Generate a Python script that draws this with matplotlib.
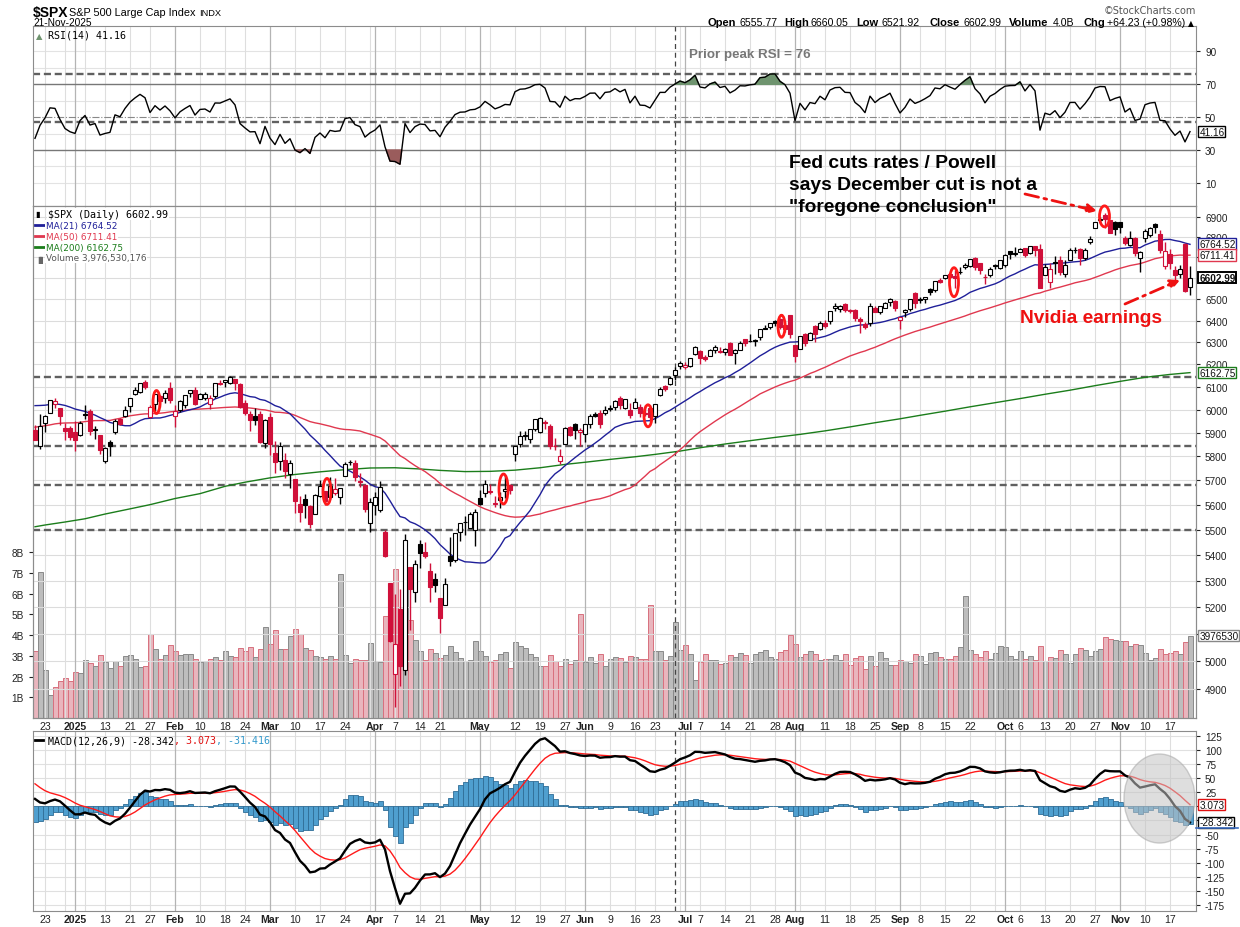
import numpy as np
import pandas as pd
import matplotlib
matplotlib.use("Agg")
import matplotlib.pyplot as plt
from matplotlib import transforms
from matplotlib.lines import Line2D
from matplotlib.patches import Ellipse, FancyArrowPatch
from matplotlib.ticker import NullLocator

plt.rcParams['font.family'] = ['Liberation Sans', 'DejaVu Sans']

W, H = 1240, 928

# closes before the window (Sep 3 - Dec 18 2024), only to warm up the indicators
prior_closes = [
    5529, 5520, 5503, 5408, 5471, 5496, 5554, 5596, 5626, 5633, 5634, 5618, 5713, 5703, 5719, 5732, 5722, 5745, 5738, 5762,
    5709, 5710, 5700, 5751, 5696, 5751, 5792, 5780, 5815, 5859, 5815, 5843, 5841, 5864, 5853, 5851, 5797, 5809, 5808, 5823, 5832, 5813, 5705,
    5729, 5712, 5783, 5929, 5973, 5996, 6001, 5984, 5985, 5949, 5871, 5894, 5917, 5917, 5949, 5969, 5987, 6021, 5999, 6032,
    6047, 6050, 6087, 6075, 6090, 6053, 6034, 6085, 6051, 6051, 6074, 6051, 5872,
]

holidays = ['2024-12-25', '2025-01-01', '2025-01-09', '2025-01-20', '2025-02-17',
            '2025-04-18', '2025-05-26', '2025-06-19', '2025-07-04', '2025-09-01']

opens = [
    5913, 5842, 5940, 5985, 6025, 6006, 5921, 5920,
    5903, 5892, 5982, 5994, 5911, 5890, 5782, 5860, 5905, 5957, 5970, 6014, 6069, 6076, 6121, 5969, 6026, 6058, 6050, 6096,
    5970, 5998, 6021, 6073, 6084, 6047, 6049, 6025, 6060, 6115, 6121, 6117, 6134, 6114, 6027, 5982, 5970, 5981, 5857,
    5968, 5812, 5782, 5786, 5726, 5705, 5603, 5624, 5595, 5563, 5635, 5654, 5633, 5646, 5630, 5718, 5776, 5771, 5696, 5679, 5528,
    5597, 5580, 5492, 5292, 4953, 5193, 4966, 5353, 5255, 5442, 5411, 5335, 5305, 5232, 5207, 5395, 5381, 5490, 5529, 5508, 5499,
    5626, 5646, 5656, 5604, 5617, 5655, 5679, 5808, 5854, 5888, 5874, 5914, 5903, 5945, 5928, 5842, 5782, 5854, 5925, 5939, 5904,
    5896, 5939, 5979, 5985, 5987, 6004, 6010, 6049, 6009, 6000, 6005, 6012, 5986, 6005, 5970, 6062, 6104, 6112, 6151, 6194,
    6188, 6191, 6246, 6259, 6235, 6240, 6266, 6256, 6255, 6296, 6250, 6263, 6313, 6304, 6307, 6326, 6368, 6370, 6397, 6406, 6379, 6428,
    6288, 6271, 6337, 6311, 6377, 6360, 6389, 6398, 6460, 6453, 6478, 6445, 6449, 6408, 6384, 6388, 6458, 6440, 6461, 6488, 6490,
    6402, 6442, 6456, 6529, 6500, 6499, 6547, 6543, 6590, 6601, 6620, 6611, 6632, 6652, 6659, 6697, 6671, 6605, 6614, 6662, 6650,
    6665, 6731, 6722, 6729, 6744, 6720, 6757, 6739, 6616, 6584, 6677, 6686, 6619, 6690, 6736, 6741, 6696, 6775, 6845, 6885, 6910, 6883, 6877,
    6874, 6795, 6760, 6797, 6696, 6794, 6810, 6865, 6817, 6657, 6718, 6641, 6620, 6768, 6556,
]
highs = [
    5935, 5982, 5978, 6041, 6049, 6007, 5941, 5929,
    5949, 5949, 6022, 6001, 5928, 5890, 5841, 5871, 5960, 5964, 6014, 6051, 6101, 6119, 6128, 6018, 6070, 6063, 6087, 6120,
    6022, 6042, 6062, 6084, 6101, 6073, 6076, 6064, 6116, 6128, 6130, 6147, 6135, 6115, 6044, 5993, 6009, 5994, 5959,
    5987, 5866, 5860, 5812, 5783, 5706, 5636, 5642, 5597, 5645, 5703, 5654, 5715, 5711, 5670, 5775, 5786, 5783, 5732, 5685, 5627,
    5651, 5695, 5500, 5292, 5247, 5268, 5482, 5353, 5381, 5460, 5450, 5368, 5329, 5233, 5310, 5469, 5485, 5528, 5554, 5572, 5581,
    5658, 5700, 5683, 5634, 5653, 5720, 5684, 5845, 5906, 5906, 5917, 5959, 5969, 5954, 5938, 5879, 5829, 5924, 5930, 5943, 5922,
    5937, 5982, 5991, 6000, 6017, 6021, 6044, 6059, 6045, 6027, 6050, 6024, 6018, 6019, 6025, 6101, 6108, 6146, 6187, 6215,
    6210, 6227, 6284, 6263, 6242, 6269, 6290, 6279, 6272, 6303, 6269, 6304, 6316, 6336, 6317, 6360, 6381, 6390, 6402, 6410, 6402, 6428,
    6288, 6331, 6344, 6347, 6379, 6396, 6405, 6446, 6481, 6474, 6481, 6455, 6456, 6416, 6393, 6482, 6466, 6466, 6485, 6508, 6495,
    6416, 6453, 6503, 6533, 6509, 6513, 6555, 6588, 6601, 6616, 6627, 6639, 6656, 6671, 6695, 6700, 6673, 6620, 6652, 6670, 6690,
    6718, 6734, 6750, 6745, 6746, 6754, 6757, 6764, 6668, 6673, 6706, 6705, 6689, 6745, 6752, 6747, 6748, 6807, 6877, 6900, 6920, 6885, 6881,
    6875, 6804, 6829, 6800, 6731, 6839, 6851, 6869, 6833, 6775, 6740, 6657, 6663, 6771, 6660,
]
lows = [
    5867, 5832, 5903, 5983, 6007, 5932, 5869, 5868,
    5824, 5888, 5961, 5891, 5875, 5809, 5773, 5803, 5895, 5935, 5966, 5990, 6064, 6074, 6089, 5962, 5995, 6012, 6028, 6030,
    5923, 5990, 6007, 6053, 6019, 6045, 6043, 6004, 6052, 6107, 6100, 6111, 6084, 6008, 5977, 5909, 5932, 5858, 5837,
    5806, 5732, 5742, 5711, 5667, 5565, 5529, 5546, 5505, 5563, 5631, 5598, 5622, 5640, 5603, 5718, 5764, 5695, 5671, 5572, 5489,
    5558, 5572, 5390, 5069, 4835, 4910, 4950, 5115, 5220, 5349, 5387, 5220, 5255, 5101, 5207, 5356, 5371, 5456, 5478, 5505, 5433,
    5597, 5630, 5642, 5590, 5585, 5628, 5642, 5781, 5839, 5870, 5855, 5906, 5897, 5918, 5830, 5825, 5768, 5854, 5884, 5875, 5843,
    5862, 5919, 5967, 5921, 5978, 5994, 5998, 6003, 6003, 5963, 6005, 5966, 5971, 5952, 5943, 6060, 6080, 6107, 6132, 6180,
    6178, 6188, 6241, 6201, 6217, 6236, 6251, 6251, 6242, 6244, 6201, 6263, 6282, 6303, 6281, 6311, 6360, 6363, 6375, 6362, 6346, 6321,
    6212, 6271, 6282, 6309, 6301, 6356, 6365, 6385, 6445, 6441, 6441, 6436, 6400, 6343, 6360, 6375, 6439, 6433, 6459, 6469, 6444,
    6361, 6419, 6446, 6460, 6482, 6484, 6520, 6536, 6579, 6598, 6600, 6551, 6618, 6646, 6656, 6639, 6619, 6570, 6608, 6642, 6642,
    6656, 6693, 6706, 6725, 6700, 6716, 6708, 6551, 6616, 6551, 6620, 6613, 6605, 6689, 6721, 6665, 6686, 6766, 6843, 6873, 6846, 6820, 6810,
    6822, 6760, 6756, 6707, 6631, 6775, 6802, 6818, 6720, 6646, 6646, 6580, 6603, 6534, 6522,
]
closes = [
    5867, 5931, 5974, 6040, 6037, 5971, 5907, 5882,
    5869, 5942, 5975, 5909, 5918, 5827, 5836, 5842, 5950, 5937, 5997, 6049, 6086, 6119, 6101, 6012, 6067, 6039, 6071, 6041,
    5994, 6037, 6062, 6084, 6026, 6066, 6069, 6052, 6115.1, 6114.6, 6129, 6144, 6117, 6013, 5983, 5955, 5956, 5861, 5955,
    5850, 5778, 5843, 5739, 5770, 5615, 5572, 5599, 5522, 5639, 5675, 5615, 5675, 5663, 5668, 5768, 5777, 5712, 5693, 5581, 5612,
    5633, 5671, 5397, 5074, 5062, 4982, 5457, 5268, 5363, 5406, 5397, 5276, 5283, 5158, 5288, 5376, 5485, 5525, 5529, 5561, 5569,
    5604, 5686, 5650, 5607, 5631, 5664, 5660, 5844, 5886, 5892, 5917, 5958, 5964, 5940, 5845, 5842, 5802, 5922, 5889, 5912, 5911,
    5936, 5970, 5971, 5939, 6000, 6006, 6038, 6022, 6045, 5977, 6033, 5983, 5981, 5967, 6025, 6092.2, 6092.1, 6141, 6173, 6205,
    6198, 6227, 6279, 6230, 6226, 6263, 6280, 6259, 6269, 6244, 6264, 6297.4, 6296.8, 6305, 6309, 6359, 6363, 6389, 6390, 6371, 6362, 6339,
    6238, 6330, 6299, 6345, 6340, 6389, 6374, 6446, 6466, 6469, 6450, 6449, 6412, 6396, 6370, 6467, 6439, 6466, 6481, 6502, 6460,
    6416, 6448, 6502, 6482, 6495, 6512, 6532, 6587, 6584, 6615, 6607, 6600, 6632, 6664, 6694, 6656, 6638, 6605, 6644, 6661, 6688,
    6711, 6715, 6716, 6740, 6714, 6754, 6735, 6552, 6654, 6644, 6671, 6629, 6664, 6735.1, 6735.4, 6699, 6738, 6791, 6875, 6891, 6890, 6822, 6840,
    6852, 6771, 6796, 6720, 6729, 6832, 6846, 6851, 6737, 6734, 6672, 6617, 6642, 6538.8, 6603.0,
]
volumes = [  # billions
    3.26, 7.06, 2.34, 1.13, 1.50, 1.79, 1.94, 1.80,
    2.23, 2.18, 2.80, 2.66, 2.52, 3.05, 2.71, 2.43, 2.76, 2.52, 3.00, 3.05, 2.85, 2.47, 2.52, 4.06, 3.34, 2.85, 3.05, 3.53,
    3.24, 3.05, 3.10, 3.10, 2.85, 2.71, 2.76, 2.85, 2.95, 2.80, 3.24, 3.00, 2.95, 3.39, 3.24, 3.43, 2.95, 3.34, 4.40,
    3.58, 4.26, 3.34, 3.34, 3.97, 4.30, 4.06, 3.39, 3.29, 3.00, 2.95, 2.85, 3.00, 2.85, 6.96, 3.05, 2.66, 2.85, 2.80, 2.80, 3.63,
    2.76, 2.71, 4.93, 6.30, 7.20, 5.00, 6.60, 4.75, 3.75, 3.25, 2.82, 3.35, 3.14, 2.90, 3.06, 3.49, 3.17, 2.90, 2.74, 2.82, 3.74,
    3.22, 3.01, 2.69, 2.79, 3.11, 3.17, 2.42, 3.69, 3.49, 3.38, 3.11, 2.93, 2.53, 2.53, 3.04, 2.74, 2.53, 2.85, 2.62, 2.82, 5.04,
    2.72, 2.95, 2.66, 3.11, 2.53, 2.85, 2.95, 2.90, 2.70, 3.00, 2.95, 2.85, 2.85, 5.47, 3.22, 3.25, 2.82, 3.01, 4.66, 3.30,
    3.51, 3.09, 1.85, 2.72, 3.09, 2.79, 2.79, 2.63, 2.68, 3.06, 2.97, 3.16, 3.06, 2.68, 3.11, 3.21, 3.30, 2.97, 2.84, 3.21, 3.30, 4.02,
    3.59, 2.97, 3.11, 3.25, 3.11, 2.78, 2.87, 2.87, 3.06, 2.78, 3.11, 2.58, 2.92, 3.01, 2.39, 3.01, 2.49, 3.21, 2.92, 2.58, 2.54,
    2.82, 2.73, 2.68, 3.11, 3.01, 2.63, 3.16, 3.21, 2.97, 2.87, 2.87, 3.01, 3.44, 5.90, 3.30, 3.11, 2.97, 3.25, 2.87, 3.16, 3.49,
    3.44, 3.01, 2.87, 3.25, 2.87, 3.01, 2.78, 3.49, 2.73, 2.97, 2.92, 3.30, 3.11, 2.68, 3.11, 3.40, 3.30, 3.01, 3.25, 3.35, 3.92, 3.83, 3.75,
    3.70, 3.73, 3.49, 3.59, 3.54, 3.16, 2.78, 2.92, 3.35, 3.11, 3.16, 3.25, 3.11, 3.68, 3.9765,
]

# 200-day average
ma200_dates = ['2024-12-19', '2024-12-23', '2024-12-30', '2025-01-06', '2025-01-13', '2025-01-21', '2025-01-27',
               '2025-02-03', '2025-02-10', '2025-02-18', '2025-02-24', '2025-03-03', '2025-03-10', '2025-03-17',
               '2025-03-24', '2025-03-31', '2025-04-07', '2025-04-14', '2025-04-21', '2025-04-28', '2025-05-05',
               '2025-05-12', '2025-05-19', '2025-05-27', '2025-06-02', '2025-06-09', '2025-06-16', '2025-06-23',
               '2025-06-30', '2025-07-07', '2025-07-14', '2025-07-21', '2025-07-28', '2025-08-04', '2025-08-11',
               '2025-08-18', '2025-08-25', '2025-09-02', '2025-09-08', '2025-09-15', '2025-09-22', '2025-09-29',
               '2025-10-06', '2025-10-13', '2025-10-20', '2025-10-27', '2025-11-03', '2025-11-10', '2025-11-17',
               '2025-11-21']
ma200_vals = [5511, 5518, 5530, 5543, 5562, 5583, 5600,
              5625, 5645, 5675, 5692, 5710, 5724, 5735,
              5744, 5751, 5752, 5747, 5741, 5736, 5737,
              5742, 5752, 5766, 5775, 5787, 5798, 5808,
              5822, 5836, 5852, 5866, 5880, 5893, 5908,
              5925, 5943, 5960, 5975, 5993, 6012, 6030,
              6048, 6067, 6085, 6105, 6124, 6142, 6155,
              6163]

rsi_levels = [76, 46.8]
price_levels = [6145, 5845, 5680, 5498]
peak_day = '2025-06-27'
fed_days = [('2025-01-28', 0.3, 6033), ('2025-03-18', 0.4, 5654), ('2025-05-07', 0.7, 5664),
            ('2025-06-18', 0.6, 5973), ('2025-07-29', 0.3, 6374), ('2025-09-16', 0.8, 6581),
            ('2025-10-29', -0.1, 6903)]

# ---------------------------------------------------------------------------
dates = pd.bdate_range('2024-12-19', '2025-11-21')
dates = dates[~dates.isin(pd.to_datetime(holidays))]
n = len(dates)
x = np.arange(n)
o, hi, lo, c, v = (np.array(a, dtype=float) for a in (opens, highs, lows, closes, volumes))
assert len(o) == len(hi) == len(lo) == len(c) == len(v) == n

full = pd.Series(prior_closes + closes, dtype=float)
ma21 = full.rolling(21).mean().values[-n:]
ma50 = full.rolling(50).mean().values[-n:]
d = full.diff()
gain = d.clip(lower=0).ewm(alpha=1 / 14, adjust=False).mean()
loss = (-d.clip(upper=0)).ewm(alpha=1 / 14, adjust=False).mean()
rsi = (100 - 100 / (1 + gain / loss)).values[-n:]
macd_s = full.ewm(span=12, adjust=False).mean() - full.ewm(span=26, adjust=False).mean()
sig_s = macd_s.ewm(span=9, adjust=False).mean()
macd = macd_s.values[-n:]
sig = sig_s.values[-n:]
hist = macd - sig
ma200_x = dates.get_indexer(pd.to_datetime(ma200_dates))

RED = '#d0103a'
prev = np.r_[prior_closes[-1], c[:-1]]
up = c >= prev
FS = 7.2  # axis numbers and value tags

fig = plt.figure(figsize=(W / 100, H / 100), dpi=100)
fig.patch.set_facecolor('white')


def rect(x0, y0, x1, y1):
    return [x0 / W, 1 - y1 / H, (x1 - x0) / W, (y1 - y0) / H]


def fx(px):
    return px / W


def fy(py):
    return 1 - py / H


ax_rsi = fig.add_axes(rect(33, 27, 1196, 207))
ax_vol = fig.add_axes(rect(33, 207, 1196, 719))
ax_px = ax_vol.twinx()
ax_macd = fig.add_axes(rect(33, 732, 1196, 912))

XL = (-0.4, 232.2)
for ax in (ax_rsi, ax_vol, ax_macd):
    ax.set_xlim(*XL)
ax_px.set_xlim(*XL)

# week / month grid
iso = dates.isocalendar().week.values
week_start = np.r_[False, iso[1:] != iso[:-1]]
month_start = np.r_[False, dates.month[1:] != dates.month[:-1]]
ms_idx = np.where(month_start)[0]
for ax in (ax_rsi, ax_px, ax_macd):
    for i in range(n):
        if month_start[i]:
            ax.axvline(i, color='#b4b4b4', lw=0.9, zorder=0.5)
        elif week_start[i]:
            ax.axvline(i, color='#dedede', lw=0.8, zorder=0.5)

ticks, labels, bolds = [], [], []
for i in range(n):
    if month_start[i]:
        ticks.append(i)
        labels.append('2025' if dates[i].month == 1 else dates[i].strftime('%b'))
        bolds.append(True)
    elif week_start[i]:
        near = [m for m in ms_idx if 0 < i - m <= 2 or 0 < m - i <= 3]
        if not near:
            ticks.append(i)
            labels.append(str(dates[i].day))
            bolds.append(False)

for ax in (ax_vol, ax_macd):
    ax.set_xticks(ticks)
    ax.set_xticklabels(labels)
    ax.tick_params(axis='x', length=0, pad=2, labelsize=7.6, colors='#222222')
    for t, b in zip(ax.get_xticklabels(), bolds):
        if b:
            t.set_fontweight('bold')
ax_rsi.set_xticks([])

peak_x = dates.get_loc(pd.Timestamp(peak_day))
for ax in (ax_rsi, ax_px, ax_macd):
    ax.axvline(peak_x, color='#444444', lw=0.9, ls=(0, (4, 3)), zorder=1)

for ax in (ax_rsi, ax_vol, ax_px, ax_macd):
    for s in ax.spines.values():
        s.set_color('#8c8c8c')

# ---------------- RSI ----------------
ax_rsi.set_ylim(-4.1, 105.5)
for lv in range(10, 100, 10):
    if lv not in (30, 50, 70):
        ax_rsi.axhline(lv, color='#e3e3e3', lw=0.8, zorder=0.4)
ax_rsi.axhline(70, color='#777777', lw=1, zorder=1)
ax_rsi.axhline(30, color='#777777', lw=1, zorder=1)
ax_rsi.axhline(50, color='#888888', lw=0.8, ls='-.', zorder=1)
for lv in rsi_levels:
    ax_rsi.axhline(lv, color='#606060', lw=1.7, ls=(0, (3, 1.6)), zorder=1.5)
ax_rsi.fill_between(x, rsi, 70, where=rsi > 70, interpolate=True, color='#6f946f', zorder=2)
ax_rsi.fill_between(x, rsi, 30, where=rsi < 30, interpolate=True, color='#9a5c5c', zorder=2)
ax_rsi.plot(x, rsi, color='black', lw=1, zorder=3)
ax_rsi.yaxis.tick_right()
ax_rsi.set_yticks([10, 30, 50, 70, 90])
ax_rsi.tick_params(axis='y', labelsize=FS, colors='#222222', length=3)

# ---------------- volume + price ----------------
ax_vol.set_ylim(0, 24.73)
ax_vol.yaxis.tick_left()
ax_vol.set_yticks(range(1, 9))
ax_vol.set_yticklabels([f'{k}B' for k in range(1, 9)])
ax_vol.tick_params(axis='y', labelsize=FS, colors='#222222', length=3)
ax_vol.bar(x, v, width=1.0, color=np.where(up, '#bdbdbd', '#e9b5bd'),
           edgecolor=np.where(up, '#8a8a8a', '#d8707e'), lw=0.7)

ax_px.set_yscale('log')
ax_px.set_ylim(4797, 6955)
pt = list(range(4900, 7000, 100))
hidden = (6700, 6600, 5100)  # sit under the value tags
ax_px.set_yticks(pt)
ax_px.set_yticklabels(['' if p in hidden else str(p) for p in pt])
ax_px.yaxis.set_minor_locator(NullLocator())
ax_px.tick_params(axis='y', labelsize=FS, colors='#222222', length=3)
for p in pt:
    ax_px.axhline(p, color='#dcdcdc', lw=0.8, zorder=0.4)
for p in price_levels:
    ax_px.axhline(p, color='#606060', lw=1.7, ls=(0, (3, 1.6)), zorder=1.5)

ax_px.plot(ma200_x, ma200_vals, color='#1b7d1b', lw=1, zorder=2.5)
ax_px.plot(x, ma50, color='#e0384f', lw=1, zorder=2.5)
ax_px.plot(x, ma21, color='#1f1f99', lw=1, zorder=2.5)

col = np.where(up, 'black', RED)
face = np.where(c < o, col, 'white')
ax_px.vlines(x, lo, hi, colors=col, lw=1, zorder=3)
ax_px.bar(x, np.abs(c - o), bottom=np.minimum(o, c), width=0.7, color=face,
          edgecolor=col, lw=0.8, zorder=4)

# ---------------- MACD ----------------
ax_macd.set_ylim(-185.7, 133.9)
mt = list(range(-175, 126, 25))
for m in mt:
    ax_macd.axhline(m, color='#e0e0e0', lw=0.8, zorder=0.4)
ax_macd.bar(x, hist, width=1.0, color='#4f9fcf', edgecolor='#2f6d96', lw=0.6, zorder=2)
ax_macd.plot(x, sig, color='#ff1a1a', lw=1, zorder=3)
ax_macd.plot(x, macd, color='black', lw=1.7, zorder=4)
ax_macd.yaxis.tick_right()
ax_macd.set_yticks(mt)
ax_macd.set_yticklabels(['' if m in (0, -25) else str(m) for m in mt])
ax_macd.tick_params(axis='y', labelsize=FS, colors='#222222', length=3)


# ---------------- right-hand value tags ----------------
def tag(ax, y, text, ec, ytrans=None, bold=False, lw=1.0, z=10, tc='#111111'):
    tr = transforms.blended_transform_factory(ax.transAxes, (ytrans or ax).transData)
    ax.text(1.0028, y, text, transform=tr, ha='left', va='center', fontsize=FS, color=tc,
            fontweight='bold' if bold else 'normal', clip_on=False, zorder=z,
            bbox=dict(boxstyle='square,pad=0.08', fc='white', ec=ec, lw=lw))


tag(ax_rsi, 41.16, '41.16', 'black')
tag(ax_px, 6764.52, '6764.52', '#1f1f99')
tag(ax_px, 6711.41, '6711.41', '#e0384f')
tag(ax_px, 6602.99, '6602.99', 'black', bold=True, lw=1.4)
tag(ax_px, 6162.75, '6162.75', '#1b7d1b')
tag(ax_px, 3.9765, '3976530', '#888888', ytrans=ax_vol)
tag(ax_macd, 3.073, '3.073', '#e01010')
tag(ax_macd, -28.342, '-28.342', 'black', z=11)
# histogram tag peeking out under the MACD tag
fig.add_artist(Line2D([fx(1196), fx(1238)], [fy(829), fy(829)], color='#3a6cc0', lw=1.2))


# ---------------- rings around Fed days ----------------
def ring(ax, xi, yv, wpx, hpx, **kw):
    tr = fig.dpi_scale_trans + transforms.ScaledTranslation(xi, yv, ax.transData)
    fig.add_artist(Ellipse((0, 0), wpx / 100, hpx / 100, transform=tr, **kw))


sizes = [(7, 23), (8, 26), (9, 30), (8, 22), (7, 22), (9, 29), (10, 21)]
for (day, dx, pv), (wp, hp) in zip(fed_days, sizes):
    xi = dates.get_loc(pd.Timestamp(day)) + dx
    ring(ax_px, xi, pv, wp, hp, fill=False, ec='#ff1a1a', lw=2)

ring(ax_macd, 224.9, 14.0, 71, 89, fc='#c4c4c4', ec='#a8a8a8', alpha=0.55, lw=1)

# ---------------- titles and legends ----------------
fig.text(fx(33), fy(16.5), '$SPX', fontsize=10, fontweight='bold', va='baseline')
fig.text(fx(69), fy(16.5), 'S&P 500 Large Cap Index', fontsize=7.8, va='baseline')
fig.text(fx(199), fy(16.5), 'INDX', fontsize=6.7, va='baseline')
fig.text(fx(33), fy(26), '21-Nov-2025', fontsize=7.3, va='baseline')
fig.text(fx(1104), fy(13.5), '\u00a9StockCharts.com', fontsize=7, color='#555555',
         va='baseline', family='DejaVu Sans')
head = [('Open', 707.7, True), ('6555.77', 739.3, False), ('High', 784.3, True), ('6660.05', 810.7, False),
        ('Low', 856.7, True), ('6521.92', 881.7, False), ('Close', 929.3, True), ('6602.99', 964, False),
        ('Volume', 1009, True), ('4.0B', 1052.3, False), ('Chg', 1083, True), ('+64.23 (+0.98%)', 1107.3, False)]
for txt, px, b in head:
    fig.text(fx(px), fy(26), txt, fontsize=8 if b else 7.6, fontweight='bold' if b else 'normal', va='baseline')
fig.text(fx(1188), fy(26), '\u25b2', fontsize=5.5, va='baseline', family='DejaVu Sans')

mono = dict(family='DejaVu Sans Mono', fontsize=7.2, va='baseline')
fig.text(fx(36), fy(39), '\u25b2', fontsize=6, color='#6f946f', va='baseline', family='DejaVu Sans')
fig.text(fx(47.7), fy(39), 'RSI(14) 41.16', **mono)

wbox = dict(boxstyle='square,pad=0.1', fc='white', ec='none')
fig.text(fx(47.7), fy(217.5), '$SPX (Daily) 6602.99', bbox=wbox, **mono)
fig.text(fx(35), fy(217.5), '\u25ae', fontsize=6, va='baseline', family='DejaVu Sans')
leg = [('MA(21) 6764.52', '#1f1f99', 229), ('MA(50) 6711.41', '#e0384f', 240),
       ('MA(200) 6162.75', '#1b7d1b', 251)]
for txt, cl, yb in leg:
    fig.add_artist(Line2D([fx(35), fx(44)], [fy(yb - 3.5), fy(yb - 3.5)], color=cl, lw=2))
    fig.text(fx(45.7), fy(yb), txt, color=cl, fontsize=6.4, family='DejaVu Sans', va='baseline', bbox=wbox)
fig.text(fx(35), fy(261.5), '\u2590\u258c', fontsize=5, color='#666666', va='baseline', family='DejaVu Sans')
fig.text(fx(46), fy(261.5), 'Volume 3,976,530,176', color='#555555', fontsize=6.4,
         family='DejaVu Sans', va='baseline', bbox=wbox)

cw = 0.602 * 7.2 * 100 / 72
fig.add_artist(Line2D([fx(35), fx(43)], [fy(741), fy(741)], color='black', lw=2))
fig.text(fx(47.7), fy(744.5), 'MACD(12,26,9) -28.342', **mono)
fig.text(fx(47.7 + 21 * cw), fy(744.5), ', 3.073', color='#e01010', **mono)
fig.text(fx(47.7 + 28 * cw), fy(744.5), ', -31.416', color='#3399cc', **mono)

# ---------------- annotations ----------------
fig.text(fx(689), fy(58), 'Prior peak RSI = 76', fontsize=9.6, fontweight='bold', color='#777777', va='baseline')
for k, line in enumerate(['Fed cuts rates / Powell', 'says December cut is not a', '"foregone conclusion"']):
    fig.text(fx(789), fy(168.5 + 22 * k), line, fontsize=13.9, fontweight='bold', color='black', va='baseline')
fig.text(fx(1020), fy(323), 'Nvidia earnings', fontsize=13.8, fontweight='bold', color='#ee1111', va='baseline')

for (x0, y0), (x1, y1) in [((1025, 195), (1097, 212)), ((1125, 305), (1180, 281))]:
    fig.add_artist(FancyArrowPatch((fx(x0), fy(y0)), (fx(x1), fy(y1)), transform=fig.transFigure,
                                   arrowstyle='-|>', mutation_scale=14, lw=2, color='#ee1111',
                                   linestyle=(0, (5, 2, 1, 2)), shrinkA=0, shrinkB=0))

fig.savefig('out.png', dpi=100)
